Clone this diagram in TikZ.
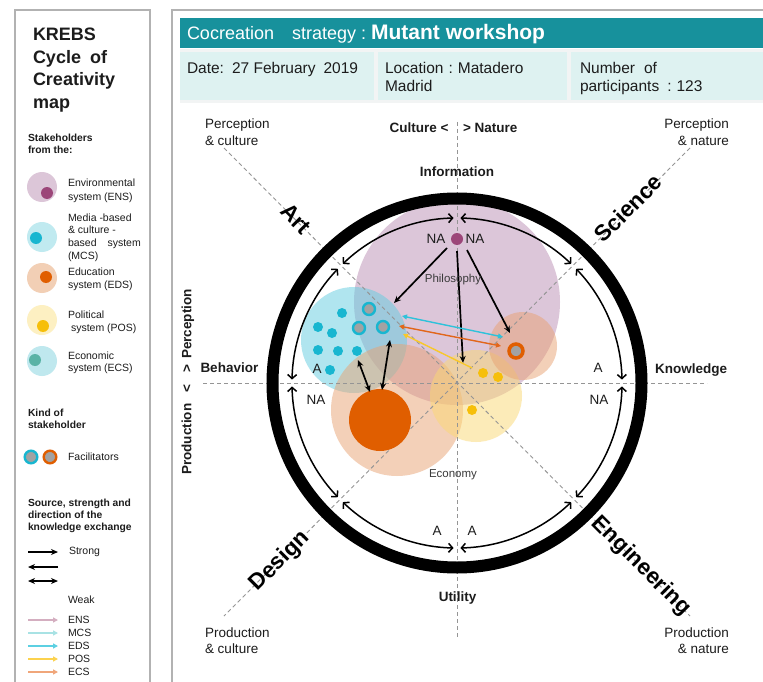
\documentclass[tikz,border=0pt]{standalone}
\usepackage{fontspec}
\setmainfont{Liberation Sans}
\usetikzlibrary{arrows.meta,calc}

\definecolor{tealbar}{HTML}{17919C}
\definecolor{cellc}{HTML}{DEF2F1}
\definecolor{stripc}{HTML}{F2F4F4}
\definecolor{panelgray}{HTML}{B2B2B2}
\definecolor{txtdark}{HTML}{1C1C1C}
\definecolor{txtgray}{HTML}{3A3A3A}
\definecolor{dashgray}{HTML}{959595}
\definecolor{ensbig}{HTML}{C6A0C0}
\definecolor{ensdotc}{HTML}{9C4679}
\definecolor{mcsbig}{HTML}{62CDE0}
\definecolor{mcsdotc}{HTML}{18B6D0}
\definecolor{edsbig}{HTML}{E9A272}
\definecolor{edsdotc}{HTML}{E05E00}
\definecolor{posbig}{HTML}{FBD873}
\definecolor{posdotc}{HTML}{F6BF0A}
\definecolor{ecsdotc}{HTML}{5AB3A6}
\definecolor{legens}{HTML}{DCC6D8}
\definecolor{legmcs}{HTML}{C0EAF0}
\definecolor{legeds}{HTML}{F2CFB5}
\definecolor{legpos}{HTML}{FDF0C2}
\definecolor{legecs}{HTML}{BFE8EE}
\definecolor{facgray}{HTML}{A2A2A2}
\definecolor{wENS}{HTML}{D4AEC0}
\definecolor{wMCS}{HTML}{A8E2E4}
\definecolor{wEDS}{HTML}{5CD0E2}
\definecolor{wPOS}{HTML}{FCD24E}
\definecolor{wECS}{HTML}{F0A67A}
\definecolor{arrcyan}{HTML}{2EC2DA}
\definecolor{arrorange}{HTML}{E2661A}
\definecolor{arryellow}{HTML}{F8C82A}

\tikzset{
  every node/.style={inner sep=0pt, outer sep=0pt},
  panelbox/.style={draw=panelgray, line width=2pt},
  legtxt/.style={anchor=base west, font=\fontsize{10.5}{12}\selectfont, text=txtdark},
  legbold/.style={anchor=base west, font=\bfseries\fontsize{10.3}{12}\selectfont, text=txtdark},
  titletxt/.style={anchor=base west, font=\bfseries\fontsize{18}{20}\selectfont, text=txtdark},
  rowtxt/.style={anchor=base west, font=\fontsize{15.5}{17}\selectfont, text=txtdark},
  cornertxt/.style={font=\fontsize{13.5}{15}\selectfont, text=txtdark},
  axistxt/.style={font=\bfseries\fontsize{13.5}{15}\selectfont, text=txtdark},
  disctxt/.style={font=\bfseries\fontsize{22.5}{24}\selectfont, text=black},
  smalltxt/.style={font=\fontsize{11.5}{13}\selectfont, text=txtgray},
  natxt/.style={anchor=base, font=\fontsize{13.5}{15}\selectfont, text=txtdark},
  guide/.style={draw=dashgray, line width=0.9pt, dash pattern=on 4pt off 3pt},
  strongarr/.style={line width=1.7pt, -{Stealth[length=7pt,width=6pt]}},
  strongdbl/.style={line width=1.7pt, {Stealth[length=7pt,width=6pt]}-{Stealth[length=7pt,width=6pt]}},
  ringarr/.style={line width=1.5pt, {Straight Barb[length=4pt,width=9pt]}-{Straight Barb[length=4pt,width=9pt]}},
  weakarr/.style={line width=1.4pt, -{Triangle[length=5pt,width=5pt]}},
  weakdbl/.style={line width=1.4pt, {Triangle[length=5pt,width=5pt]}-{Triangle[length=5pt,width=5pt]}},
  facil/.style={line width=2.4pt, fill=facgray},
}

\begin{document}
\begin{tikzpicture}[x=1pt,y=1pt]
\useasboundingbox (0,0) rectangle (763,-682);
\fill[white] (0,0) rectangle (763,-682);

% ---------------- panels
\draw[panelbox] (15,-10) rectangle (150,-700);
\draw[panelbox] (172,-10) rectangle (790,-700);

% ---------------- left legend
\node[titletxt] (t1) at (33,-41) {KREBS};
\node[titletxt] (t2) at (33,-63.5) {Cycle\hspace{4pt} of};
\node[titletxt] (t3) at (33,-86) {Creativity};
\node[titletxt] (t4) at (33,-108.5) {map};

\node[legbold] (sh1) at (28,-141.7) {Stakeholders};
\node[legbold] (sh2) at (28,-153.7) {from the:};

\fill[legens] (42,-187) circle (15);
\fill[ensdotc] (47,-193) circle (6);
\node[legtxt] (l1a) at (68,-186.8) {Environmental};
\node[legtxt] (l1b) at (68,-200.8) {system (ENS)};

\fill[legmcs] (42,-237) circle (15);
\fill[mcsdotc] (36,-238) circle (6);
\node[legtxt] (l2a) at (68,-221.8) {Media -based};
\node[legtxt] (l2b) at (68,-233.8) {\& culture -};
\node[legtxt] (l2c) at (68,-246.8) {based\hspace{8pt} system};
\node[legtxt] (l2d) at (68,-259.8) {(MCS)};

\fill[legeds] (42,-278) circle (15);
\fill[edsdotc] (46,-277) circle (6);
\node[legtxt] (l3a) at (68,-275.8) {Education};
\node[legtxt] (l3b) at (68,-288.8) {system (EDS)};

\fill[legpos] (42,-320) circle (15);
\fill[posdotc] (43,-326) circle (6);
\node[legtxt] (l4a) at (68,-318.8) {Political};
\node[legtxt] (l4b) at (71,-331.8) {system (POS)};

\fill[legecs] (42,-361) circle (15);
\fill[ecsdotc] (35,-360) circle (6);
\node[legtxt] (l5a) at (68,-359.8) {Economic};
\node[legtxt] (l5b) at (68,-371.8) {system (ECS)};

\node[legbold] (k1) at (28,-416.7) {Kind of};
\node[legbold] (k2) at (28,-428.7) {stakeholder};
\draw[facil, draw=mcsdotc] (31,-457) circle (6.3);
\draw[facil, draw=edsdotc] (50,-457) circle (6.3);
\node[legtxt] (fac) at (68,-460.8) {Facilitators};

\node[legbold] (s1) at (28,-506.7) {Source, strength and};
\node[legbold] (s2) at (28,-518.7) {direction of the};
\node[legbold] (s3) at (28,-530.7) {knowledge exchange};

\coordinate (sa1) at (28,-552); \coordinate (sb1) at (58,-552);
\coordinate (sa2) at (28,-567); \coordinate (sb2) at (58,-567);
\coordinate (sa3) at (28,-581); \coordinate (sb3) at (58,-581);
\draw[strongarr] (sa1) -- (sb1);
\draw[strongarr] (sb2) -- (sa2);
\draw[strongdbl] (sa3) -- (sb3);
\node[legtxt] (strong) at (69,-554.8) {Strong};
\node[legtxt] (weak) at (68,-603.8) {Weak};

\coordinate (wa1) at (28,-620); \coordinate (wb1) at (58,-620);
\coordinate (wa2) at (28,-633); \coordinate (wb2) at (58,-633);
\coordinate (wa3) at (28,-646); \coordinate (wb3) at (58,-646);
\coordinate (wa4) at (28,-659); \coordinate (wb4) at (58,-659);
\coordinate (wa5) at (28,-672); \coordinate (wb5) at (58,-672);
\draw[weakarr, draw=wENS, fill=wENS] (wa1) -- (wb1);
\draw[weakarr, draw=wMCS, fill=wMCS] (wa2) -- (wb2);
\draw[weakarr, draw=wEDS, fill=wEDS] (wa3) -- (wb3);
\draw[weakarr, draw=wPOS, fill=wPOS] (wa4) -- (wb4);
\draw[weakarr, draw=wECS, fill=wECS] (wa5) -- (wb5);
\node[legtxt] (wl1) at (68,-623.8) {ENS};
\node[legtxt] (wl2) at (68,-636.8) {MCS};
\node[legtxt] (wl3) at (68,-649.8) {EDS};
\node[legtxt] (wl4) at (68,-662.8) {POS};
\node[legtxt] (wl5) at (68,-675.8) {ECS};

% ---------------- header
\fill[tealbar] (180,-18) rectangle (763,-48);
\node[anchor=base west, text=white] (head) at (187,-39.4)
  {\fontsize{18}{20}\selectfont Cocreation\hspace{18pt}strategy\hspace{5pt}:\hspace{5pt}{\bfseries\fontsize{21}{22}\selectfont Mutant\hspace{6pt}workshop}};
\fill[stripc] (180,-49) rectangle (763,-103);
\fill[cellc] (180,-52) rectangle (374,-100);
\fill[cellc] (378,-52) rectangle (567,-100);
\fill[cellc] (571,-52) rectangle (763,-100);
\node[rowtxt] (date) at (187,-73.5) {Date:\hspace{8pt}27 February\hspace{8pt}2019};
\node[rowtxt] (loc1) at (385,-73.5) {Location\hspace{5pt}:\hspace{5pt}Matadero};
\node[rowtxt] (loc2) at (385,-91.5) {Madrid};
\node[rowtxt] (num1) at (580,-73.5) {Number\hspace{9pt}of};
\node[rowtxt] (num2) at (580,-91.5) {participants\hspace{8pt}:\hspace{5pt}123};

% ---------------- diagram
\coordinate (C) at (457,-383);

% stakeholder bubbles
\fill[ensbig, fill opacity=0.6] (457,-302) circle (103);
\fill[mcsbig, fill opacity=0.5] (354,-340) circle (53);
\fill[edsbig, fill opacity=0.5] (397,-410) circle (66);
\fill[posbig, fill opacity=0.5] (476,-396) circle (46);
\fill[edsbig, fill opacity=0.5] (523,-346) circle (34);

% guide lines
\draw[guide] (457,-122) -- (457,-637);
\draw[guide] (203,-383) -- (707,-383);
\draw[guide] (224,-148) -- (690,-616);
\draw[guide] (690,-148) -- (224,-616);

% dots
\foreach \p in {(342,-313),(318,-327),(332,-333),(318,-350),(338,-351),(357,-351),(330,-370)}
  \fill[mcsdotc] \p circle (5);
\foreach \p in {(483,-373),(498,-377),(472,-410)}
  \fill[posdotc] \p circle (5);
\fill[edsdotc] (380,-420) circle (31);
\node[circle, fill=ensdotc, minimum size=12pt] (ensd) at (457,-239) {};

% facilitators
\draw[facil, draw=mcsdotc] (369,-309) circle (6);
\draw[facil, draw=mcsdotc] (359,-328) circle (6);
\draw[facil, draw=mcsdotc] (383,-327) circle (6);
\draw[line width=3.5pt, draw=edsdotc, fill=facgray] (516,-351) circle (7);

% rings
\draw[line width=12pt] (C) circle (184.5);
\foreach \a in {0,45,...,315}{
  \draw[ringarr] ($(C)+({\a+1.2}:165)$) arc[start angle={\a+1.2}, end angle={\a+43.8}, radius=165];
}

% knowledge exchange arrows
\coordinate (e1) at (447,-248); \coordinate (m1) at (394,-303);
\coordinate (e2) at (457,-251); \coordinate (p1) at (463,-363);
\coordinate (e3) at (467,-250); \coordinate (r1) at (510,-333);
\coordinate (m2) at (358,-360); \coordinate (o1) at (370,-392);
\coordinate (m3) at (390,-340); \coordinate (o2) at (382,-390);
\draw[strongarr] (e1) -- (m1);
\draw[strongarr] (e2) -- (p1);
\draw[strongarr] (e3) -- (r1);
\draw[strongdbl] (m2) -- (o1);
\draw[strongdbl] (m3) -- (o2);

\coordinate (cy1) at (402,-316); \coordinate (cy2) at (503,-337);
\coordinate (or1) at (399,-326); \coordinate (or2) at (501,-346);
\coordinate (ye1) at (472,-368); \coordinate (ye2) at (403,-334);
\draw[weakdbl, draw=arrcyan, fill=arrcyan] (cy1) -- (cy2);
\draw[weakdbl, draw=arrorange, fill=arrorange] (or1) -- (or2);
\draw[weakarr, draw=arryellow, fill=arryellow] (ye1) -- (ye2);

% ring labels
\node[natxt] (na1) at (436,-243.8) {NA};
\node[natxt] (na2) at (475,-243.8) {NA};
\node[natxt] (al) at (317,-373.8) {A};
\node[natxt] (nal) at (316,-404.8) {NA};
\node[natxt] (ar) at (598,-372.8) {A};
\node[natxt] (nar) at (599,-404.8) {NA};
\node[natxt] (ab1) at (437,-535.8) {A};
\node[natxt] (ab2) at (472,-535.8) {A};

\node[smalltxt] (philo) at (453,-280) {Philosophy};
\node[smalltxt] (econ) at (453,-475) {Economy};

% axis labels
\node[axistxt, anchor=base east] (cult) at (448.5,-133) {Culture <};
\node[axistxt, anchor=base west] (nat) at (463,-133) {> Nature};
\node[axistxt, anchor=base] (info) at (457,-176.5) {Information};
\node[axistxt, anchor=base] (util) at (457.5,-601.5) {Utility};
\node[axistxt, anchor=base west] (behav) at (200.5,-372) {Behavior};
\node[axistxt, anchor=base west] (know) at (655,-373) {Knowledge};
\node[axistxt, rotate=90] (prodperc) at (188,-382)
  {Production\hspace{11pt}<\hspace{12pt}>\hspace{6pt}Perception};

% corner labels
\node[cornertxt, anchor=base west] (pc1) at (205,-129) {Perception};
\node[cornertxt, anchor=base west] (pc2) at (205,-145.5) {\& culture};
\node[cornertxt, anchor=base east] (pn1) at (729,-129) {Perception};
\node[cornertxt, anchor=base east] (pn2) at (729,-145.5) {\& nature};
\node[cornertxt, anchor=base west] (dc1) at (205,-637) {Production};
\node[cornertxt, anchor=base west] (dc2) at (205,-653) {\& culture};
\node[cornertxt, anchor=base east] (dn1) at (729,-637) {Production};
\node[cornertxt, anchor=base east] (dn2) at (729,-653) {\& nature};

% discipline labels
\node[disctxt, rotate=-45] (art) at (296,-219) {Art};
\node[disctxt, rotate=45] (sci) at (628,-208) {Science};
\node[disctxt, rotate=45] (des) at (280,-561) {Design};
\node[disctxt, rotate=-45] (eng) at (641,-566) {Engineering};
\end{tikzpicture}
\end{document}
